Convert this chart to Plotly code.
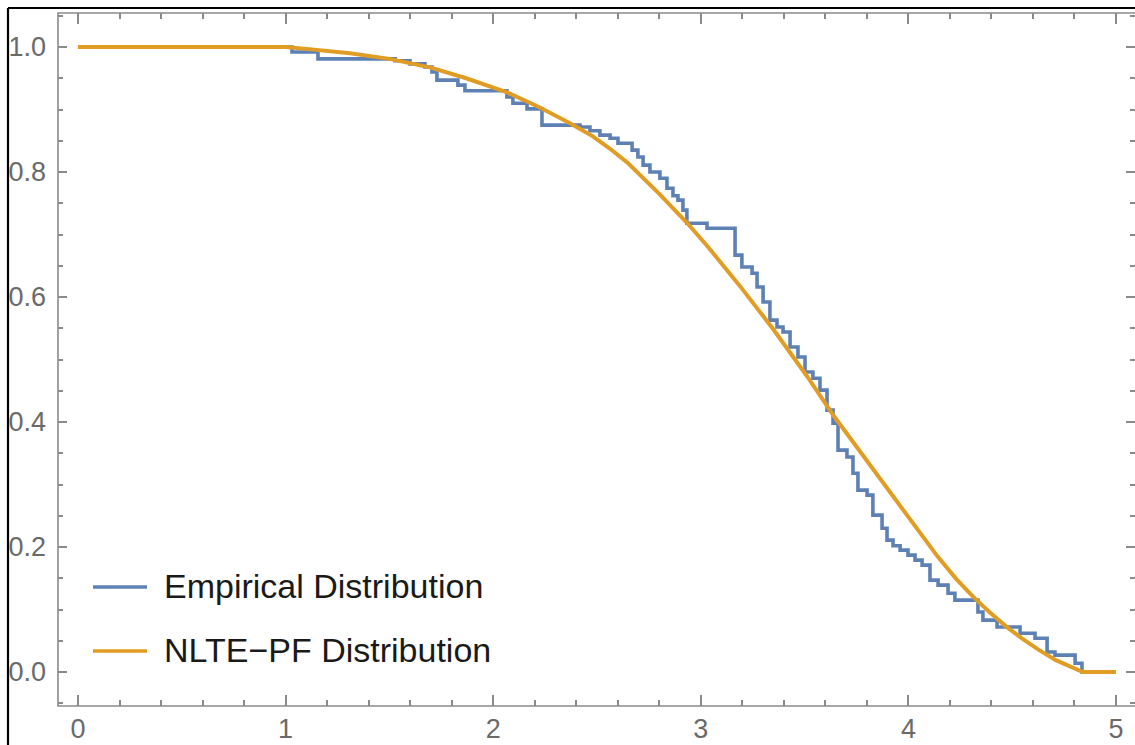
import plotly.graph_objects as go

# Empirical distribution (survival) steps: jump positions and values after each jump
emp_x = [0.0, 1.031, 1.156, 1.527, 1.599, 1.671, 1.705, 1.729, 1.830, 1.864, 2.066, 2.095,
         2.163, 2.235, 2.418, 2.466, 2.514, 2.563, 2.601, 2.669, 2.697, 2.722, 2.755, 2.803,
         2.837, 2.866, 2.890, 2.914, 2.933, 3.030, 3.165, 3.198, 3.247, 3.271, 3.300, 3.333,
         3.367, 3.396, 3.430, 3.468, 3.502, 3.540, 3.574, 3.608, 3.637, 3.661, 3.704, 3.733,
         3.757, 3.801, 3.829, 3.873, 3.897, 3.926, 3.960, 3.998, 4.032, 4.066, 4.104, 4.143,
         4.191, 4.224, 4.335, 4.359, 4.427, 4.538, 4.610, 4.668, 4.706, 4.803, 4.836, 5.0]
emp_y = [1.0, 0.992, 0.981, 0.978, 0.973, 0.968, 0.960, 0.947, 0.939, 0.930, 0.920, 0.910,
         0.901, 0.875, 0.872, 0.866, 0.859, 0.854, 0.846, 0.835, 0.824, 0.811, 0.800, 0.790,
         0.774, 0.762, 0.755, 0.739, 0.718, 0.710, 0.667, 0.648, 0.638, 0.616, 0.592, 0.563,
         0.552, 0.544, 0.520, 0.504, 0.480, 0.470, 0.451, 0.419, 0.398, 0.355, 0.344, 0.318,
         0.291, 0.283, 0.251, 0.230, 0.211, 0.202, 0.195, 0.187, 0.179, 0.171, 0.147, 0.139,
         0.126, 0.115, 0.096, 0.083, 0.072, 0.062, 0.054, 0.032, 0.027, 0.014, 0.0, 0.0]

# NLTE-PF distribution (smooth curve)
fit_x = [0.0, 1.0, 1.10, 1.31, 1.50, 1.70, 1.87, 2.07, 2.22, 2.37, 2.48, 2.56, 2.65,
         2.80, 2.93, 3.03, 3.19, 3.35, 3.51, 3.64, 3.72, 3.80, 3.88, 3.96, 4.04, 4.14,
         4.23, 4.31, 4.39, 4.47, 4.55, 4.63, 4.71, 4.79, 4.84, 5.0]
fit_y = [1.0, 1.0, 0.997, 0.990, 0.981, 0.967, 0.950, 0.927, 0.904, 0.878, 0.857, 0.838,
         0.814, 0.765, 0.720, 0.682, 0.617, 0.548, 0.474, 0.410, 0.374, 0.338, 0.302, 0.265,
         0.229, 0.185, 0.149, 0.121, 0.096, 0.073, 0.053, 0.035, 0.019, 0.007, 0.0, 0.0]

series_names = ["Empirical Distribution", "NLTE\u2212PF Distribution"]
series_colors = ["#5E81B5", "#E19C24"]

x_ticks = [0, 1, 2, 3, 4, 5]
y_ticks = [0.0, 0.2, 0.4, 0.6, 0.8, 1.0]
y_tick_text = ["0.0", "0.2", "0.4", "0.6", "0.8", "1.0"]

fig = go.Figure()
fig.add_trace(go.Scatter(x=emp_x, y=emp_y, mode="lines", line_shape="hv",
                         name=series_names[0],
                         line=dict(color=series_colors[0], width=3.6)))
fig.add_trace(go.Scatter(x=fit_x, y=fit_y, mode="lines",
                         name=series_names[1],
                         line=dict(color=series_colors[1], width=4.0)))

W, H = 1135, 745
L, R, T, B = 58, 0, 13, 39
pw, ph = W - L - R, H - T - B

def px(xp):
    return (xp - L) / pw

def py(yp):
    return (H - B - yp) / ph

axis_gray = "#8a8a8a"
label_gray = "#6a6a6a"

shapes = [
    # frame (right side lies just past the window edge)
    dict(type="rect", xref="paper", yref="paper", x0=0, y0=0, x1=px(1137), y1=1,
         line=dict(color=axis_gray, width=1.6), layer="above"),
    # outer black border of the screenshot
    dict(type="line", xref="paper", yref="paper", x0=px(8), x1=px(1140), y0=py(8), y1=py(8),
         line=dict(color="#000000", width=2.2)),
    dict(type="line", xref="paper", yref="paper", x0=px(8), x1=px(8), y0=py(8), y1=py(760),
         line=dict(color="#000000", width=2.2)),
]

legend_rows = [587, 651]
annotations = []
for name, color, yrow in zip(series_names, series_colors, legend_rows):
    shapes.append(dict(type="line", xref="paper", yref="paper",
                       x0=px(93), x1=px(147), y0=py(yrow), y1=py(yrow),
                       line=dict(color=color, width=3.4)))
    annotations.append(dict(xref="paper", yref="paper", x=px(162), y=py(yrow - 1),
                            xanchor="left", yanchor="middle", showarrow=False,
                            text=name,
                            font=dict(family="Liberation Sans, Arial, sans-serif",
                                      size=34, color="#1a1a1a")))

fig.update_layout(
    width=W, height=H,
    margin=dict(l=L, r=R, t=T, b=B, pad=0, autoexpand=False),
    paper_bgcolor="white", plot_bgcolor="white",
    showlegend=False,
    shapes=shapes,
    annotations=annotations,
    font=dict(family="Liberation Sans, Arial, sans-serif", size=27, color=label_gray),
)

fig.update_xaxes(
    range=[-0.0963, 5.0915], showgrid=False, zeroline=False, showline=False,
    automargin=False,
    tickmode="array", tickvals=x_ticks, ticktext=[str(v) for v in x_ticks],
    ticks="inside", ticklen=11, tickwidth=1.5, tickcolor=axis_gray, mirror="ticks",
    ticklabelstandoff=4,
    minor=dict(ticks="inside", ticklen=6, tickwidth=1.5, tickcolor=axis_gray,
               tick0=0, dtick=0.2, showgrid=False),
    tickfont=dict(size=27, color=label_gray),
)
fig.update_yaxes(
    range=[-0.0544, 1.0544], showgrid=False, zeroline=False, showline=False,
    automargin=False,
    tickmode="array", tickvals=y_ticks, ticktext=y_tick_text,
    ticks="inside", ticklen=9, tickwidth=1.5, tickcolor=axis_gray, mirror="ticks",
    ticklabelstandoff=11,
    minor=dict(ticks="inside", ticklen=5, tickwidth=1.5, tickcolor=axis_gray,
               tick0=0, dtick=0.05, showgrid=False),
    tickfont=dict(size=27, color=label_gray),
)

fig.write_html("out.html",
               config={"displayModeBar": False},
               post_script="document.body.style.margin='0';"
                           "document.body.style.overflow='hidden';")
